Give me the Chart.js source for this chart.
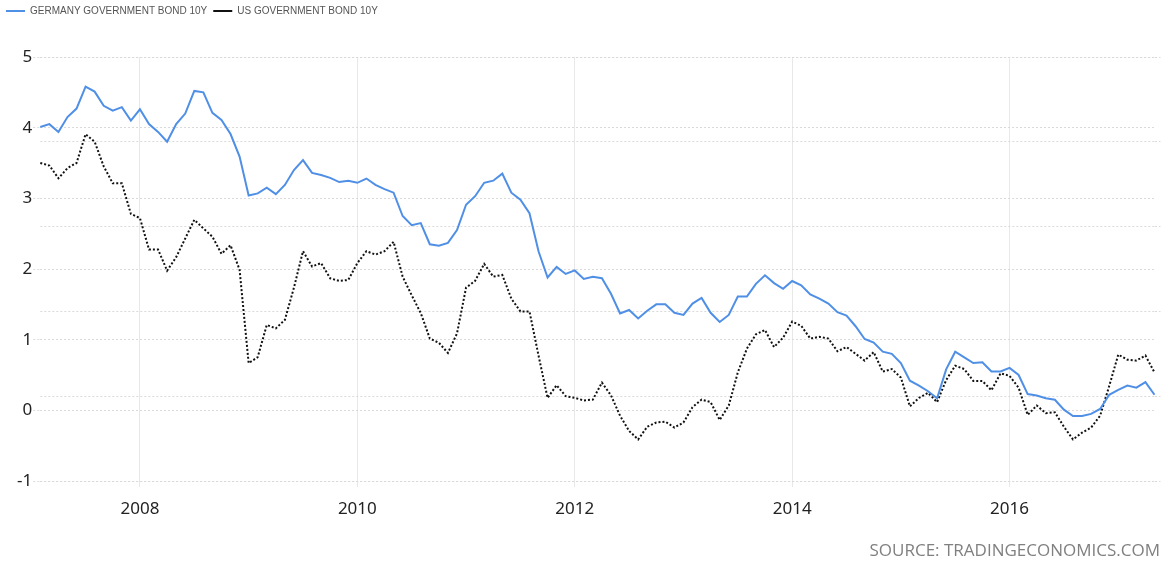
<!DOCTYPE html>
<html>
<head>
<meta charset="utf-8">
<script src="https://cdn.jsdelivr.net/npm/chart.js@4/dist/chart.umd.min.js"></script>
<style>
  html, body { margin: 0; padding: 0; background: #ffffff; overflow: hidden; }
  #wrap { position: relative; width: 1165px; height: 562px; }
</style>
</head>
<body>
<div id="wrap"><canvas id="c"></canvas></div>
<script>
// ---- data (monthly, Feb 2007 .. May 2017) ----
const firstYear = 2007, firstMonth = 2, pointCount = 124;
const months = [];
for (let k = 0; k < pointCount; k++) {
  const m0 = firstMonth - 1 + k;
  const y = firstYear + Math.floor(m0 / 12);
  const m = (m0 % 12) + 1;
  months.push(y + '-' + (m < 10 ? '0' + m : m));
}

const germany10y = [
  4.01, 4.05, 3.94, 4.15, 4.27, 4.58, 4.51, 4.31, 4.24, 4.29, 4.10,
  4.26, 4.05, 3.94, 3.80, 4.05, 4.20, 4.52, 4.50, 4.21, 4.11, 3.91, 3.59,
  3.04, 3.07, 3.15, 3.06, 3.19, 3.40, 3.54, 3.36, 3.33, 3.29, 3.23, 3.25,
  3.22, 3.28, 3.19, 3.13, 3.08, 2.75, 2.62, 2.65, 2.35, 2.33, 2.37, 2.55,
  2.91, 3.03, 3.22, 3.25, 3.35, 3.08, 2.98, 2.79, 2.25, 1.88, 2.03, 1.93,
  1.98, 1.86, 1.89, 1.87, 1.65, 1.37, 1.42, 1.30, 1.41, 1.50, 1.50, 1.38, 1.35,
  1.51, 1.59, 1.38, 1.25, 1.35, 1.61, 1.61, 1.79, 1.91, 1.80, 1.72, 1.83,
  1.77, 1.64, 1.58, 1.51, 1.39, 1.34, 1.19, 1.01, 0.96, 0.83, 0.80, 0.67,
  0.42, 0.35, 0.27, 0.17, 0.58, 0.83, 0.75, 0.67, 0.68, 0.55, 0.55, 0.60,
  0.50, 0.23, 0.21, 0.17, 0.15, 0.01, -0.08, -0.08, -0.05, 0.02, 0.22, 0.29,
  0.35, 0.32, 0.40, 0.22
];

const us10y = [
  4.75, 4.72, 4.57, 4.69, 4.75, 5.09, 5.00, 4.71, 4.51, 4.51, 4.15,
  4.10, 3.73, 3.73, 3.48, 3.64, 3.86, 4.08, 3.98, 3.88, 3.68, 3.78, 3.49,
  2.39, 2.46, 2.84, 2.80, 2.90, 3.28, 3.71, 3.53, 3.57, 3.39, 3.36, 3.37,
  3.57, 3.71, 3.67, 3.71, 3.82, 3.41, 3.19, 2.98, 2.68, 2.63, 2.51, 2.74,
  3.28, 3.36, 3.56, 3.41, 3.43, 3.15, 3.00, 3.00, 2.48, 1.98, 2.13, 2.00,
  1.98, 1.95, 1.96, 2.16, 2.01, 1.77, 1.59, 1.49, 1.64, 1.69, 1.70, 1.63, 1.69,
  1.87, 1.96, 1.93, 1.72, 1.89, 2.28, 2.56, 2.73, 2.78, 2.58, 2.69, 2.88,
  2.83, 2.68, 2.70, 2.68, 2.53, 2.58, 2.50, 2.42, 2.52, 2.29, 2.32, 2.22,
  1.88, 1.98, 2.04, 1.93, 2.19, 2.36, 2.32, 2.18, 2.18, 2.07, 2.27, 2.24,
  2.10, 1.78, 1.89, 1.80, 1.81, 1.64, 1.49, 1.57, 1.63, 1.77, 2.12, 2.49,
  2.43, 2.42, 2.48, 2.28
];

const yearTickLabels = ['2008', '2010', '2012', '2014', '2016'];
const leftTicks = [-1, 0, 1, 2, 3, 4, 5];
const rightTicks = [1, 2, 3, 4, 5, 6];
const seriesNames = ['GERMANY GOVERNMENT BOND 10Y', 'US GOVERNMENT BOND 10Y'];
const sourceText = 'SOURCE: TRADINGECONOMICS.COM';

// ---- chart ----
const tickFont = { family: '"Noto Sans", "Open Sans", sans-serif', size: 17 };
const gridGray = '#dadada';

const legendSpacer = {
  id: 'legendSpacer',
  beforeInit(chart) {
    const orig = chart.legend.fit;
    chart.legend.fit = function () { orig.call(this); this.height = 57; };
  }
};

new Chart(document.getElementById('c'), {
  type: 'line',
  data: {
    labels: months,
    datasets: [
      {
        label: seriesNames[0],
        data: germany10y,
        yAxisID: 'y',
        borderColor: '#4f8fe6',
        backgroundColor: '#4f8fe6',
        borderWidth: 2,
        pointRadius: 0,
        tension: 0,
        fill: false
      },
      {
        label: seriesNames[1],
        data: us10y,
        yAxisID: 'y1',
        borderColor: '#111111',
        backgroundColor: '#111111',
        borderWidth: 2,
        borderDash: [2, 2],
        pointRadius: 0,
        tension: 0,
        fill: false
      }
    ]
  },
  options: {
    responsive: true,
    maintainAspectRatio: false,
    animation: false,
    layout: { padding: { left: 0, right: 5, top: 0, bottom: 0 } },
    plugins: {
      legend: {
        display: true,
        position: 'top',
        align: 'start',
        labels: {
          usePointStyle: true,
          pointStyle: 'line',
          pointStyleWidth: 19,
          boxHeight: 10,
          padding: 6,
          color: '#555555',
          font: { family: '"Liberation Sans", Arial, sans-serif', size: 10 }
        }
      },
      subtitle: {
        display: true,
        text: sourceText,
        position: 'bottom',
        align: 'end',
        color: '#808080',
        font: { family: '"Open Sans", "Noto Sans", sans-serif', size: 17, weight: 'normal' },
        padding: { top: 0, bottom: 1 }
      },
      tooltip: { enabled: false }
    },
    scales: {
      x: {
        type: 'category',
        offset: false,
        afterBuildTicks(scale) {
          scale.ticks = scale.ticks.filter(t => {
            const lab = months[t.value];
            return yearTickLabels.some(y => lab === y + '-01');
          });
        },
        afterFit(scale) { scale.height = 59.6; },
        ticks: {
          autoSkip: false,
          maxRotation: 0,
          padding: 12,
          color: '#222222',
          font: tickFont,
          callback(value) { return this.getLabelForValue(value).slice(0, 4); }
        },
        grid: {
          display: true,
          color: '#e8e8e8',
          lineWidth: 1,
          drawTicks: true,
          tickLength: 6,
          offset: false
        },
        border: { display: false }
      },
      y: {
        position: 'left',
        min: -1,
        max: 5,
        afterBuildTicks(scale) { scale.ticks = leftTicks.map(v => ({ value: v })); },
        afterFit(scale) { scale.width = 40.3; },
        ticks: {
          padding: 1,
          color: '#222222',
          font: tickFont,
          callback(v) { return String(v); }
        },
        grid: {
          color: gridGray,
          lineWidth: 1,
          drawTicks: true,
          tickLength: 7,
          tickBorderDash: [2, 2]
        },
        border: { display: false, dash: [2, 2] }
      },
      y1: {
        position: 'right',
        min: 1,
        max: 6,
        afterBuildTicks(scale) { scale.ticks = rightTicks.map(v => ({ value: v })); },
        afterFit(scale) { scale.width = 5.5; },
        ticks: {
          padding: 3,
          color: '#888888',
          font: tickFont,
          callback(v) { return String(v); }
        },
        grid: {
          color: gridGray,
          lineWidth: 1,
          drawTicks: true,
          tickLength: 6,
          tickBorderDash: [2, 2]
        },
        border: { display: false, dash: [2, 2] }
      }
    }
  },
  plugins: [legendSpacer]
});
</script>
</body>
</html>
